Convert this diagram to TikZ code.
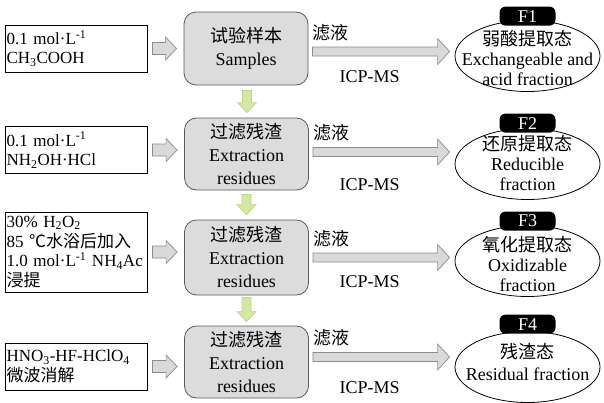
\documentclass[tikz,border=0pt]{standalone}
\usepackage{fontspec}
\setmainfont{Liberation Serif}
\newfontfamily\cjk{Noto Sans CJK SC}
\usetikzlibrary{shapes.geometric,calc}
\definecolor{boxgray}{HTML}{DCDCDC}
\definecolor{arrgray}{HTML}{D9D9D9}
\definecolor{arredge}{HTML}{8C8C8C}
\definecolor{grnfill}{HTML}{D3E8A4}
\definecolor{grnedge}{HTML}{B9D884}
\newcommand\blockR[6]{%
  \draw[#1] let \p1=(#2), \p2=(#3) in
    (\x1,\y1+#4) -- (\x2-#6,\y1+#4) -- (\x2-#6,\y1+#5) -- (\x2,\y1)
    -- (\x2-#6,\y1-#5) -- (\x2-#6,\y1-#4) -- (\x1,\y1-#4) -- cycle;}
\newcommand\blockD[6]{%
  \draw[#1] let \p1=(#2), \p2=(#3) in
    (\x1-#4,\y1) -- (\x1-#4,\y2+#6) -- (\x1-#5,\y2+#6) -- (\x1,\y2)
    -- (\x1+#5,\y2+#6) -- (\x1+#4,\y2+#6) -- (\x1+#4,\y1) -- cycle;}
\begin{document}
\begin{tikzpicture}[x=1pt,y=-1pt,
  lbox/.style={draw=black, line width=0.9pt, text width=139pt, align=left,
    inner xsep=1.5pt, inner ysep=3pt, font=\fontsize{17}{19.5}\selectfont},
  cbox/.style={draw=black!65, fill=boxgray, line width=0.8pt, rounded corners=12pt,
    minimum width=124pt, minimum height=73pt, align=center, inner sep=0pt,
    font=\fontsize{18}{23}\selectfont},
  ell/.style={draw=black, line width=0.8pt, ellipse, minimum width=145pt,
    minimum height=71pt, inner sep=0pt},
  etext/.style={align=center, inner sep=0pt, font=\fontsize{18}{20}\selectfont},
  flabel/.style={fill=black, text=white, rounded corners=6pt, minimum width=56pt,
    minimum height=19pt, inner sep=0pt, font=\fontsize{18}{18}\selectfont},
  lbl/.style={inner sep=0pt, font=\fontsize{18}{18}\selectfont},
  grayarrow/.style={draw=arredge, fill=arrgray, line width=0.7pt},
  greenarrow/.style={draw=grnedge, fill=grnfill, line width=0.7pt}
]
\useasboundingbox (0,0) rectangle (604,402);

% left boxes
\node[lbox, minimum height=47pt] (l1) at (76,48.5)
  {0.1 mol·L\textsuperscript{-1}\\CH\textsubscript{3}COOH};
\node[lbox, minimum height=47pt] (l2) at (76,150)
  {0.1 mol·L\textsuperscript{-1}\\NH\textsubscript{2}OH·HCl};
\node[lbox, minimum height=80pt, font=\fontsize{17}{19.8}\selectfont] (l3) at (76,252)
  {30\% H\textsubscript{2}O\textsubscript{2}\\85 {\cjk ℃水浴后加入}\\\mbox{1.0 mol·L\textsuperscript{-1} NH\textsubscript{4}Ac}\\{\cjk 浸提}};
\node[lbox, minimum height=47pt] (l4) at (76,366.5)
  {HNO\textsubscript{3}-HF-HClO\textsubscript{4}\\{\cjk 微波消解}};

% centre boxes
\node[cbox] (c1) at (246,48.5) {{\cjk 试验样本}\\Samples};
\node[cbox, minimum height=72pt] (c2) at (246.5,154) {{\cjk 过滤残渣}\\Extraction\\residues};
\node[cbox, minimum height=75pt] (c3) at (246.5,257.5) {{\cjk 过滤残渣}\\Extraction\\residues};
\node[cbox, minimum height=72pt] (c4) at (246.5,362) {{\cjk 过滤残渣}\\Extraction\\residues};

% ellipses
\node[ell] (e1) at (527.5,56) {};
\node[ell] (e2) at (527.5,164) {};
\node[ell] (e3) at (527.5,261) {};
\node[ell] (e4) at (527.5,367) {};
\node[etext] (t1) at (527.5,57.5) {{\cjk 弱酸提取态}\\Exchangeable and\\acid fraction};
\node[etext] (t2) at (527.5,163) {{\cjk 还原提取态}\\Reducible\\fraction};
\node[etext] (t3) at (527.5,264) {{\cjk 氧化提取态}\\Oxidizable\\fraction};
\node[etext, font=\fontsize{18}{22}\selectfont] (t4) at (527.5,362) {{\cjk 残渣态}\\Residual fraction};
\node[flabel] (f1) at ([yshift=4pt]e1.north) {F1};
\node[flabel] (f2) at ([yshift=5pt]e2.north) {F2};
\node[flabel] (f3) at ([yshift=4pt]e3.north) {F3};
\node[flabel] (f4) at ([yshift=7pt]e4.north) {F4};

% left -> centre arrows
\foreach \i in {1,2,3,4}{
  \coordinate (ga\i) at ([xshift=5pt]l\i.east);
  \coordinate (gb\i) at ([xshift=-7pt]c\i.west |- l\i.east);
  \blockR{grayarrow}{ga\i}{gb\i}{6pt}{11.5pt}{11pt}
}

% centre -> ellipse arrows
\coordinate (ha1) at ([xshift=4pt,yshift=-3pt]c1.east);
\coordinate (ha2) at ([xshift=4pt,yshift=2pt]c2.east);
\coordinate (ha3) at ([xshift=4pt,yshift=0pt]c3.east);
\coordinate (ha4) at ([xshift=4pt,yshift=5pt]c4.east);
\foreach \i in {1,2,3,4}{
  \coordinate (hb\i) at ([xshift=-5pt]e\i.west);
  \blockR{grayarrow}{ha\i}{hb\i}{4.5pt}{13pt}{12pt}
  \node[lbl, anchor=west] (fl\i) at ([yshift=19pt]ha\i) {{\cjk 滤液}};
  \node[lbl] (icp\i) at ([xshift=-80pt,yshift=-21pt]hb\i) {ICP-MS};
}

% green down arrows
\coordinate (da1) at ([xshift=1pt,yshift=-5pt]c1.south);
\coordinate (db1) at ([yshift=5pt]c2.north);
\coordinate (da2) at ([yshift=-4pt]c2.south);
\coordinate (db2) at ([yshift=5pt]c3.north);
\coordinate (da3) at ([yshift=-2pt]c3.south);
\coordinate (db3) at ([yshift=4pt]c4.north);
\foreach \i in {1,2,3}{
  \blockD{greenarrow}{da\i}{db\i}{4.5pt}{9.5pt}{10pt}
}
\end{tikzpicture}
\end{document}
